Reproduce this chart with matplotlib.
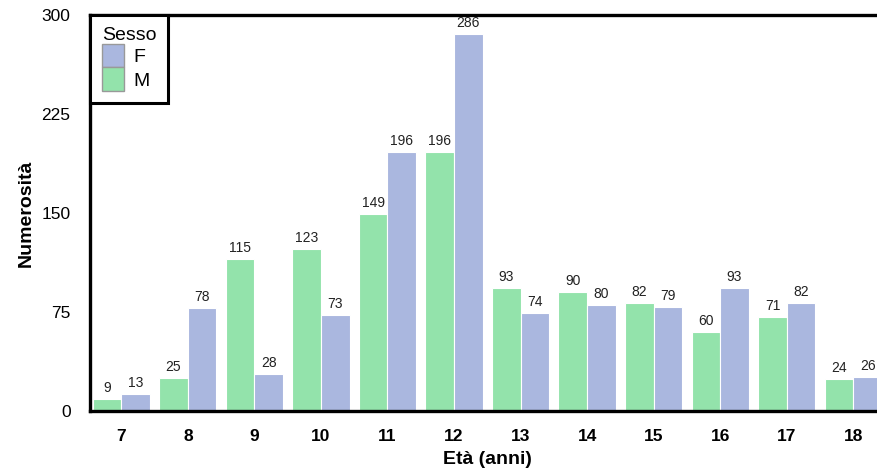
import numpy as np
import matplotlib
matplotlib.use('Agg')
import matplotlib.pyplot as plt
from matplotlib.patches import Patch

plt.rcParams['font.family'] = ['Liberation Sans', 'DejaVu Sans']

ages = ['7', '8', '9', '10', '11', '12', '13', '14', '15', '16', '17', '18']
maschi = [9, 25, 115, 123, 149, 196, 93, 90, 82, 60, 71, 24]
femmine = [13, 78, 28, 73, 196, 286, 74, 80, 79, 93, 82, 26]

GREEN = '#93E3AB'
BLUE = '#AAB7DF'

fig = plt.figure(figsize=(8.78, 4.70), dpi=100)
ax = fig.add_axes([0.1025, 0.1255, 0.905, 0.8425])

x = np.arange(len(ages))
w = 0.43
bars_m = ax.bar(x - w / 2, maschi, width=w, color=GREEN, edgecolor='white', linewidth=0.8)
bars_f = ax.bar(x + w / 2, femmine, width=w, color=BLUE, edgecolor='white', linewidth=0.8)

for bars, vals in ((bars_m, maschi), (bars_f, femmine)):
    for b, v in zip(bars, vals):
        ax.text(b.get_x() + b.get_width() / 2, v + 3, str(v),
                ha='center', va='bottom', fontsize=10, color='#222222')

ax.set_xlim(-0.47, 11.47)
ax.set_ylim(0, 300)
ax.set_yticks([0, 75, 150, 225, 300])
ax.set_xticks(x)
ax.set_xticklabels(ages, fontweight='bold')
ax.tick_params(axis='both', length=0, labelsize=12.5)
ax.tick_params(axis='y', pad=14)
ax.tick_params(axis='x', pad=13)

for side in ('left', 'bottom', 'top'):
    ax.spines[side].set_linewidth(2.4)
    ax.spines[side].set_color('black')
ax.spines['right'].set_visible(False)

ax.set_xlabel('Età (anni)', fontsize=14, fontweight='bold', labelpad=5)
ax.set_ylabel('Numerosità', fontsize=14, fontweight='bold', labelpad=5)

handles = [Patch(facecolor=BLUE, edgecolor='#999999', label='F'),
           Patch(facecolor=GREEN, edgecolor='#999999', label='M')]
leg = ax.legend(handles=handles, title='Sesso', loc='upper left',
                fontsize=14, title_fontsize=14, frameon=True, fancybox=False,
                borderaxespad=0, labelspacing=0, handlelength=1.15,
                handleheight=1.5, handletextpad=0.5, borderpad=0.6)
leg._legend_box.align = 'left'
leg.get_frame().set_edgecolor('black')
leg.get_frame().set_linewidth(2.2)
leg.get_frame().set_alpha(1)

fig.savefig('out.png', dpi=100)
